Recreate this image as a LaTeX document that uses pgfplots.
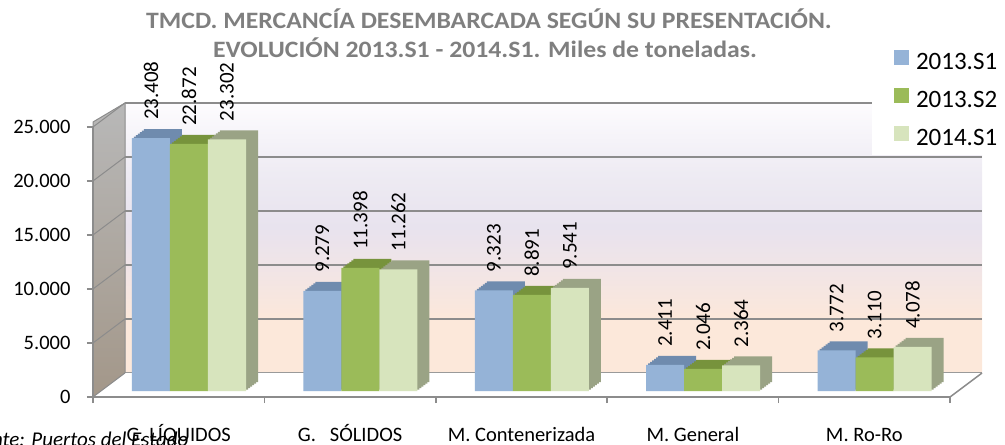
\documentclass[border=0pt]{standalone}
\usepackage{pgfplots}
\pgfplotsset{compat=1.18}
\usepackage{pgfplotstable}
\usetikzlibrary{backgrounds,calc}
\usepackage{fontspec}
\setmainfont{Carlito}
\definecolor{cBlue}{HTML}{95B3D7}
\definecolor{cBlueT}{HTML}{6F8BAE}
\definecolor{cGreen}{HTML}{9BBB59}
\definecolor{cGreenT}{HTML}{77933C}
\definecolor{cLight}{HTML}{D7E4BD}
\definecolor{cLightT}{HTML}{9AA385}
\definecolor{gridg}{HTML}{8C8C8C}
\definecolor{titleg}{HTML}{7F7F7F}
\definecolor{wallTop}{HTML}{FDFCFE}
\definecolor{wallUp}{HTML}{EEEBF3}
\definecolor{wallMid}{HTML}{E8E3EE}
\definecolor{wallPink}{HTML}{F0E4E7}
\definecolor{wallBot}{HTML}{FCE8DA}
\definecolor{sideTop}{HTML}{B8B8B8}
\definecolor{sideMid}{HTML}{908E96}
\definecolor{sideBot}{HTML}{A39789}
\pgfdeclareverticalshading{wallshade}{100bp}{color(0bp)=(wallBot); color(25bp)=(wallBot); color(35bp)=(wallBot); color(45bp)=(wallPink); color(52bp)=(wallMid); color(62bp)=(wallUp); color(75bp)=(wallTop); color(100bp)=(wallTop)}

\pgfplotstableread{
x s1 s2 s3
0 23408 22872 23302
1 9279 11398 11262
2 9323 8891 9541
3 2411 2046 2364
4 3772 3110 4078
}\datatable

\pgfplotsset{
  /pgf/number format/.cd, 1000 sep={.}, assume math mode=true,
  /pgfplots/.cd,
  barbase/.style={ybar, bar width=38bp, draw=none, xshift=10.3bp, yshift=6bp},
  lab/.style={nodes near coords={\rotatebox{90}{\pgfmathprintnumber{\pgfplotspointmeta}}},
    every node near coord/.append style={anchor=south, inner sep=0pt, yshift=18bp, xshift=#1,
      font=\fontsize{21bp}{24bp}\selectfont, text=black}},
}

\begin{document}
\begin{tikzpicture}
\begin{axis}[name=main, scale only axis, width=857bp, height=270bp,
  xmin=-0.5, xmax=4.5, ymin=0, ymax=25000, clip=false,
  scaled y ticks=false,
  axis lines*=left, axis line style={gridg, line width=2bp},
  tick style={gridg, line width=1.5bp}, tick align=outside, major tick length=6bp,
  ytick={0,5000,...,25000},
  xtick={-0.5,0.5,...,4.5}, xticklabels={},
  extra x ticks={0,1,2,3,4},
  extra x tick labels={G. LÍQUIDOS, G.\ \ \ SÓLIDOS, M. Contenerizada, M. General, M. Ro-Ro},
  extra x tick style={major tick length=0pt},
  tick label style={font=\fontsize{20.5bp}{24bp}\selectfont, text=black},
  yticklabel style={anchor=east, xshift=-13bp},
  xticklabel style={anchor=base, yshift=-44bp},
  legend style={at={(0.9347,1.2834)}, anchor=north west, draw=none, fill=none,
    inner sep=0pt, outer sep=0pt, row sep=16bp,
    font=\fontsize{25bp}{28bp}\selectfont,
    nodes={inner sep=0pt, text height=15bp, text depth=3bp},
    /tikz/every odd column/.append style={column sep=7bp}},
  legend cell align=left,
  ]
\coordinate (O) at (rel axis cs:0,0);
\pgfplotsinvokeforeach{1,...,6}{
\addplot[barbase, bar shift=-38bp, fill=cBlueT, forget plot,
  xshift=#1*2bp, yshift=#1*1.5bp] table[x=x,y=s1]{\datatable};
}
\addplot[barbase, bar shift=-38bp, fill=cBlue, lab=-38bp,
  legend image code/.code={\fill[cBlue] (0,-8bp) rectangle (15bp,7bp);}] table[x=x,y=s1]{\datatable};
\addlegendentry{2013.S1}
\pgfplotsinvokeforeach{1,...,6}{
\addplot[barbase, bar shift=0bp, fill=cGreenT, forget plot,
  xshift=#1*2bp, yshift=#1*1.5bp] table[x=x,y=s2]{\datatable};
}
\addplot[barbase, bar shift=0bp, fill=cGreen, lab=0bp,
  legend image code/.code={\fill[cGreen] (0,-8bp) rectangle (15bp,7bp);}] table[x=x,y=s2]{\datatable};
\addlegendentry{2013.S2}
\pgfplotsinvokeforeach{1,...,6}{
\addplot[barbase, bar shift=38bp, fill=cLightT, forget plot,
  xshift=#1*2bp, yshift=#1*1.5bp] table[x=x,y=s3]{\datatable};
}
\addplot[barbase, bar shift=38bp, fill=cLight, lab=38bp,
  legend image code/.code={\fill[cLight] (0,-8bp) rectangle (15bp,7bp);}] table[x=x,y=s3]{\datatable};
\addlegendentry{2014.S1}
\end{axis}
% background decoration, positions relative to the front axis origin (in px of the reference)
\begin{scope}[on background layer, shift={(O)}, x=1bp, y=1bp]
  \shade[shading=wallshade] (32,24) rectangle (889,294);
  \foreach \k in {0,...,5} {\draw[gridg, line width=1.5bp] (32,24+54*\k) -- (889,24+54*\k);}
  \fill[white] (779,242) rectangle (912,400);
  \fill[white] (0,0) -- (857,0) -- (889,24) -- (32,24) -- cycle;
  \draw[gridg, line width=1.5bp] (857,0) -- (889,24);
  \shade[top color=sideTop, middle color=sideMid, bottom color=sideBot] (0,0) -- (32,24) -- (32,294) -- (0,275) -- cycle;
  \foreach \k in {0,...,5} {\draw[gridg, line width=1bp] (0,54*\k) -- (32,24+54*\k);}
  \draw[gridg, line width=1bp] (0,0) -- (0,275) -- (32,294) -- (32,24);
\end{scope}
\begin{scope}[shift={(O)}, x=1bp, y=1bp]
  \node[anchor=base east, font=\itshape\fontsize{21bp}{23bp}\selectfont] at (99,-49) {Fuente: Puertos del Estado};
  \node[anchor=base, font=\bfseries\fontsize{23.5bp}{28bp}\selectfont, text=titleg] at (396,369) {\scalebox{1.095}[1]{TMCD. MERCANCÍA DESEMBARCADA SEGÚN SU PRESENTACIÓN.}};
  \node[anchor=base, font=\bfseries\fontsize{23.5bp}{28bp}\selectfont, text=titleg] at (392,340) {\scalebox{1.095}[1]{EVOLUCIÓN 2013.S1 - 2014.S1. Miles de toneladas.}};
\end{scope}
\pgfresetboundingbox
\path[use as bounding box] ($(O)+(-93bp,-48bp)$) rectangle ($(O)+(912bp,397bp)$);
\end{tikzpicture}
\end{document}
